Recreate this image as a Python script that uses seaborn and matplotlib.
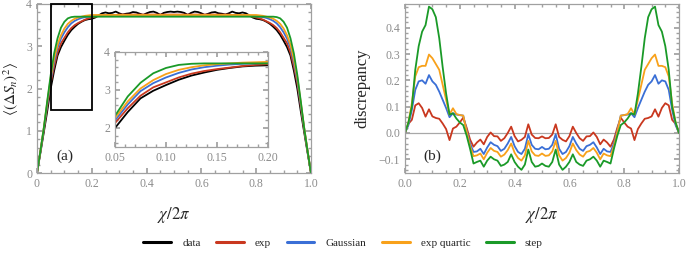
import numpy as np
import pandas as pd
import seaborn as sns
import matplotlib
matplotlib.use("Agg")
import matplotlib.pyplot as plt
from matplotlib.patches import Rectangle
from matplotlib.lines import Line2D
from matplotlib.ticker import MultipleLocator

# ---------------- data ----------------
x_grid = [i / 80 for i in range(81)]

series_names = ["data", "exp", "Gaussian", "exp quartic", "step"]
series_colors = ["#000000", "#c9381f", "#3a6fd6", "#f8a11a", "#1a9a28"]

# panel (a): variance curves (9 rows x 9 values)
var_data = [
    0.00, 0.48, 0.97, 1.47, 2.00, 2.42, 2.78, 2.98, 3.13,
    3.27, 3.38, 3.46, 3.53, 3.58, 3.62, 3.64, 3.65, 3.68,
    3.73, 3.78, 3.80, 3.78, 3.79, 3.82, 3.78, 3.75, 3.77,
    3.78, 3.81, 3.80, 3.77, 3.74, 3.78, 3.81, 3.82, 3.79,
    3.74, 3.79, 3.81, 3.82, 3.81, 3.82, 3.81, 3.79, 3.74,
    3.79, 3.82, 3.81, 3.78, 3.74, 3.77, 3.80, 3.81, 3.78,
    3.77, 3.75, 3.78, 3.82, 3.79, 3.78, 3.80, 3.78, 3.73,
    3.68, 3.65, 3.64, 3.62, 3.58, 3.53, 3.46, 3.38, 3.27,
    3.13, 2.98, 2.78, 2.42, 2.00, 1.47, 0.97, 0.48, 0.00]
var_exp = [
    0.00, 0.51, 1.02, 1.58, 2.13, 2.52, 2.85, 3.07, 3.20,
    3.33, 3.43, 3.50, 3.55, 3.59, 3.63, 3.66, 3.68, 3.70,
    3.72, 3.73, 3.74, 3.74, 3.74, 3.74, 3.75, 3.75, 3.75,
    3.75, 3.75, 3.75, 3.75, 3.75, 3.75, 3.75, 3.75, 3.75,
    3.75, 3.75, 3.75, 3.75, 3.75, 3.75, 3.75, 3.75, 3.75,
    3.75, 3.75, 3.75, 3.75, 3.75, 3.75, 3.75, 3.75, 3.75,
    3.75, 3.75, 3.75, 3.74, 3.74, 3.74, 3.74, 3.73, 3.72,
    3.70, 3.68, 3.66, 3.63, 3.59, 3.55, 3.50, 3.43, 3.33,
    3.20, 3.07, 2.85, 2.52, 2.13, 1.58, 1.02, 0.51, 0.00]
var_gauss = [
    0.00, 0.51, 1.06, 1.63, 2.20, 2.62, 2.97, 3.18, 3.33,
    3.45, 3.54, 3.60, 3.64, 3.67, 3.69, 3.70, 3.71, 3.72,
    3.72, 3.72, 3.72, 3.72, 3.72, 3.72, 3.72, 3.72, 3.72,
    3.72, 3.72, 3.72, 3.72, 3.72, 3.72, 3.72, 3.72, 3.72,
    3.72, 3.72, 3.72, 3.72, 3.72, 3.72, 3.72, 3.72, 3.72,
    3.72, 3.72, 3.72, 3.72, 3.72, 3.72, 3.72, 3.72, 3.72,
    3.72, 3.72, 3.72, 3.72, 3.72, 3.72, 3.72, 3.72, 3.72,
    3.72, 3.71, 3.70, 3.69, 3.67, 3.64, 3.60, 3.54, 3.45,
    3.33, 3.18, 2.97, 2.62, 2.20, 1.63, 1.06, 0.51, 0.00]
var_quartic = [
    0.00, 0.52, 1.08, 1.68, 2.26, 2.70, 3.04, 3.26, 3.42,
    3.53, 3.60, 3.65, 3.68, 3.70, 3.72, 3.73, 3.74, 3.74,
    3.74, 3.74, 3.74, 3.74, 3.74, 3.74, 3.74, 3.74, 3.74,
    3.74, 3.74, 3.74, 3.74, 3.74, 3.74, 3.74, 3.74, 3.74,
    3.74, 3.74, 3.74, 3.74, 3.74, 3.74, 3.74, 3.74, 3.74,
    3.74, 3.74, 3.74, 3.74, 3.74, 3.74, 3.74, 3.74, 3.74,
    3.74, 3.74, 3.74, 3.74, 3.74, 3.74, 3.74, 3.74, 3.74,
    3.74, 3.74, 3.73, 3.72, 3.70, 3.68, 3.65, 3.60, 3.53,
    3.42, 3.26, 3.04, 2.70, 2.26, 1.68, 1.08, 0.52, 0.00]
var_step = [
    0.00, 0.52, 1.07, 1.71, 2.32, 2.83, 3.19, 3.44, 3.58,
    3.66, 3.69, 3.70, 3.70, 3.70, 3.70, 3.70, 3.70, 3.70,
    3.70, 3.70, 3.70, 3.70, 3.70, 3.70, 3.70, 3.70, 3.70,
    3.70, 3.70, 3.70, 3.70, 3.70, 3.70, 3.70, 3.70, 3.70,
    3.70, 3.70, 3.70, 3.70, 3.70, 3.70, 3.70, 3.70, 3.70,
    3.70, 3.70, 3.70, 3.70, 3.70, 3.70, 3.70, 3.70, 3.70,
    3.70, 3.70, 3.70, 3.70, 3.70, 3.70, 3.70, 3.70, 3.70,
    3.70, 3.70, 3.70, 3.70, 3.70, 3.70, 3.70, 3.69, 3.66,
    3.58, 3.44, 3.19, 2.83, 2.32, 1.71, 1.07, 0.52, 0.00]

# panel (b): discrepancy curves (9 rows x 9 values)
disc_exp = [
    0.000, 0.035, 0.050, 0.105, 0.113, 0.095, 0.062, 0.090, 0.063,
    0.057, 0.054, 0.036, 0.015, -0.027, 0.017, 0.024, 0.040, 0.058,
    0.020, -0.025, -0.052, -0.036, -0.025, -0.043, -0.015, 0.002, -0.012,
    -0.013, -0.030, -0.020, 0.000, 0.024, -0.012, -0.032, -0.026, -0.015,
    0.033, -0.006, -0.019, -0.020, -0.013, -0.020, -0.019, -0.006, 0.033,
    -0.015, -0.026, -0.032, -0.012, 0.024, 0.000, -0.020, -0.030, -0.013,
    -0.012, 0.002, -0.015, -0.043, -0.025, -0.036, -0.052, -0.025, 0.020,
    0.058, 0.040, 0.024, 0.017, -0.027, 0.015, 0.036, 0.054, 0.057,
    0.063, 0.090, 0.062, 0.095, 0.113, 0.105, 0.050, 0.035, 0.000]
disc_gauss = [
    0.000, 0.030, 0.088, 0.164, 0.196, 0.200, 0.187, 0.220, 0.196,
    0.183, 0.157, 0.126, 0.095, 0.060, 0.075, 0.070, 0.068, 0.066,
    0.010, -0.040, -0.072, -0.070, -0.060, -0.080, -0.055, -0.035, -0.045,
    -0.050, -0.068, -0.060, -0.040, -0.015, -0.050, -0.072, -0.080, -0.060,
    -0.005, -0.045, -0.060, -0.062, -0.053, -0.062, -0.060, -0.045, -0.005,
    -0.060, -0.080, -0.072, -0.050, -0.015, -0.040, -0.060, -0.068, -0.050,
    -0.045, -0.035, -0.055, -0.080, -0.060, -0.070, -0.072, -0.040, 0.010,
    0.066, 0.068, 0.070, 0.075, 0.060, 0.095, 0.126, 0.157, 0.183,
    0.196, 0.220, 0.187, 0.200, 0.196, 0.164, 0.088, 0.030, 0.000]
disc_quartic = [
    0.000, 0.040, 0.113, 0.215, 0.250, 0.255, 0.255, 0.298, 0.284,
    0.262, 0.240, 0.183, 0.126, 0.070, 0.094, 0.072, 0.068, 0.066,
    0.005, -0.050, -0.088, -0.085, -0.078, -0.100, -0.075, -0.057, -0.068,
    -0.072, -0.090, -0.082, -0.065, -0.040, -0.075, -0.095, -0.105, -0.085,
    -0.030, -0.070, -0.085, -0.087, -0.078, -0.087, -0.085, -0.070, -0.030,
    -0.085, -0.105, -0.095, -0.075, -0.040, -0.065, -0.082, -0.090, -0.072,
    -0.068, -0.057, -0.075, -0.100, -0.078, -0.085, -0.088, -0.050, 0.005,
    0.066, 0.068, 0.072, 0.094, 0.070, 0.126, 0.183, 0.240, 0.262,
    0.284, 0.298, 0.255, 0.255, 0.250, 0.215, 0.113, 0.040, 0.000]
disc_step = [
    0.000, 0.040, 0.100, 0.240, 0.330, 0.385, 0.410, 0.480, 0.470,
    0.440, 0.360, 0.250, 0.150, 0.070, 0.075, 0.055, 0.040, 0.030,
    -0.010, -0.060, -0.116, -0.110, -0.105, -0.128, -0.105, -0.090, -0.100,
    -0.105, -0.125, -0.120, -0.110, -0.081, -0.110, -0.128, -0.140, -0.120,
    -0.063, -0.110, -0.128, -0.125, -0.116, -0.125, -0.128, -0.110, -0.063,
    -0.120, -0.140, -0.128, -0.110, -0.081, -0.110, -0.120, -0.125, -0.105,
    -0.100, -0.090, -0.105, -0.128, -0.105, -0.110, -0.116, -0.060, -0.010,
    0.030, 0.040, 0.055, 0.075, 0.070, 0.150, 0.250, 0.360, 0.440,
    0.470, 0.480, 0.410, 0.385, 0.330, 0.240, 0.100, 0.040, 0.000]

x_ticks_main = [0.0, 0.2, 0.4, 0.6, 0.8, 1.0]
x_labels_a = ["0", "0.2", "0.4", "0.6", "0.8", "1.0"]
x_labels_b = ["0.0", "0.2", "0.4", "0.6", "0.8", "1.0"]
y_ticks_main = [0, 1, 2, 3, 4]
x_ticks_inset = [0.05, 0.10, 0.15, 0.20]
x_labels_inset = ["0.05", "0.10", "0.15", "0.20"]
y_ticks_inset = [2, 3, 4]
y_ticks_disc = [-0.1, 0.0, 0.1, 0.2, 0.3, 0.4]
y_labels_disc = ["\u22120.1", "0.0", "0.1", "0.2", "0.3", "0.4"]

# ---------------- frames ----------------
var_df = pd.DataFrame({
    "x": x_grid * 5,
    "y": var_data + var_exp + var_gauss + var_quartic + var_step,
    "series": sum([[n] * len(x_grid) for n in series_names], []),
})
disc_df = pd.DataFrame({
    "x": x_grid * 4,
    "y": disc_exp + disc_gauss + disc_quartic + disc_step,
    "series": sum([[n] * len(x_grid) for n in series_names[1:]], []),
})
palette = dict(zip(series_names, series_colors))

# ---------------- style ----------------
sns.set_theme(style="ticks")
plt.rcParams["font.family"] = ["Liberation Serif", "DejaVu Serif"]
plt.rcParams["mathtext.fontset"] = "stix"
gray = "#8c8c8c"
plt.rcParams.update({
    "axes.edgecolor": "#a0a0a0",
    "axes.linewidth": 0.9,
    "xtick.color": "#a0a0a0",
    "ytick.color": "#a0a0a0",
    "xtick.labelcolor": gray,
    "ytick.labelcolor": gray,
    "xtick.direction": "in",
    "ytick.direction": "in",
    "xtick.top": True,
    "ytick.right": True,
    "xtick.major.size": 3.5,
    "ytick.major.size": 3.5,
    "xtick.minor.size": 2.0,
    "ytick.minor.size": 2.0,
    "xtick.labelsize": 8.5,
    "ytick.labelsize": 8.5,
})

fig = plt.figure(figsize=(6.86, 2.57), dpi=100)
W, H = 686, 257


def add_axes_px(left, top, right, bottom):
    return fig.add_axes([left / W, 1 - bottom / H, (right - left) / W, (bottom - top) / H])


ax_a = add_axes_px(37, 4, 311, 173)
ax_b = add_axes_px(405, 4, 679, 173)
ax_in = add_axes_px(115, 52, 268, 147)

lw = 1.3
sns.lineplot(data=var_df, x="x", y="y", hue="series", hue_order=series_names, palette=palette,
             estimator=None, sort=False, legend=False, ax=ax_a, linewidth=lw)
sns.lineplot(data=var_df, x="x", y="y", hue="series", hue_order=series_names, palette=palette,
             estimator=None, sort=False, legend=False, ax=ax_in, linewidth=lw)
sns.lineplot(data=disc_df, x="x", y="y", hue="series", hue_order=series_names[1:], palette=palette,
             estimator=None, sort=False, legend=False, ax=ax_b, linewidth=lw)

# panel (a)
ax_a.set_xlim(0, 1)
ax_a.set_ylim(0, 4)
ax_a.set_xticks(x_ticks_main)
ax_a.set_xticklabels(x_labels_a)
ax_a.set_yticks(y_ticks_main)
ax_a.xaxis.set_minor_locator(MultipleLocator(0.05))
ax_a.yaxis.set_minor_locator(MultipleLocator(0.2))
ax_a.add_patch(Rectangle((0.05, 1.5), 0.15, 2.5, fill=False, edgecolor="black", linewidth=1.3,
                         zorder=5, clip_on=False))
ax_a.text(0.1, 0.4, "(a)", fontsize=11, ha="center", va="center")
ax_a.set_xlabel(r"$\chi/2\pi$", fontsize=12, labelpad=11)
ax_a.set_ylabel(r"$\langle(\Delta S_n)^2\rangle$", fontsize=11, labelpad=4)

# inset
ax_in.set_xlim(0.05, 0.20)
ax_in.set_ylim(1.5, 4)
ax_in.set_xticks(x_ticks_inset)
ax_in.set_xticklabels(x_labels_inset)
ax_in.set_yticks(y_ticks_inset)
ax_in.xaxis.set_minor_locator(MultipleLocator(0.01))
ax_in.yaxis.set_minor_locator(MultipleLocator(0.2))
ax_in.set_xlabel("")
ax_in.set_ylabel("")
ax_in.set_facecolor("white")

# panel (b)
ax_b.set_xlim(0, 1)
ax_b.set_ylim(-0.152, 0.49)
ax_b.set_xticks(x_ticks_main)
ax_b.set_xticklabels(x_labels_b)
ax_b.set_yticks(y_ticks_disc)
ax_b.set_yticklabels(y_labels_disc)
ax_b.xaxis.set_minor_locator(MultipleLocator(0.05))
ax_b.yaxis.set_minor_locator(MultipleLocator(0.02))
ax_b.axhline(0, color="#a8a8a8", linewidth=0.9, zorder=0)
ax_b.text(0.1, -0.088, "(b)", fontsize=11, ha="center", va="center")
ax_b.set_xlabel(r"$\chi/2\pi$", fontsize=12, labelpad=11)
ax_b.set_ylabel("discrepancy", fontsize=12, labelpad=6)

# legend
handles = [Line2D([0], [0], color=c, linewidth=2.2) for c in series_colors]
fig.legend(handles, series_names, loc="center", bbox_to_anchor=(0.5, 0.055), ncol=5, frameon=False,
           fontsize=8, handlelength=2.5, handletextpad=1.0, columnspacing=1.4)

fig.savefig("out.png", dpi=100)
